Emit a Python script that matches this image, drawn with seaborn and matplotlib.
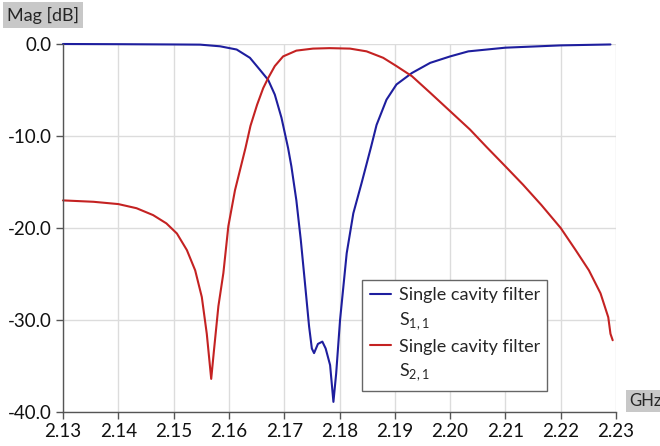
import pandas as pd
import matplotlib
matplotlib.use("Agg")
import matplotlib.pyplot as plt
from matplotlib.lines import Line2D
import seaborn as sns

# S-parameters of the single cavity filter (GHz, dB)
freq_s11 = [2.130, 2.140, 2.150, 2.1548, 2.1584, 2.1614, 2.1638, 2.1656, 2.1671, 2.1683,
            2.1695, 2.1707, 2.1713, 2.1722, 2.1730, 2.1737, 2.1745, 2.1750, 2.1754, 2.1761,
            2.1769, 2.1775, 2.1783, 2.1789, 2.1794, 2.1801, 2.1813, 2.1825, 2.1840, 2.1857,
            2.1867, 2.1885, 2.1903, 2.1931, 2.1964, 2.2000, 2.2033, 2.2100, 2.2200, 2.2290]
mag_s11 = [0.0, -0.02, -0.05, -0.07, -0.25, -0.6, -1.5, -2.8, -3.9, -5.5,
           -8.0, -11.3, -13.3, -17.0, -21.3, -25.65, -30.7, -33.1, -33.6, -32.6,
           -32.35, -33.1, -34.9, -38.9, -35.8, -30.0, -22.75, -18.4, -15.1, -11.2,
           -8.8, -6.05, -4.4, -3.15, -2.05, -1.35, -0.8, -0.4, -0.15, -0.05]

freq_s21 = [2.130, 2.1355, 2.140, 2.1433, 2.1463, 2.1487, 2.1506, 2.1524, 2.1539, 2.1551,
            2.1560, 2.1568, 2.1573, 2.1581, 2.1590, 2.1599, 2.1611, 2.1630, 2.1639, 2.1651,
            2.1662, 2.1671, 2.1683, 2.1698, 2.1722, 2.1752, 2.1782, 2.1819, 2.1849, 2.1879,
            2.1903, 2.1931, 2.1964, 2.2000, 2.2036, 2.2066, 2.2100, 2.2132, 2.2165, 2.2200,
            2.2227, 2.2251, 2.2272, 2.2286, 2.2290, 2.2294]
mag_s21 = [-17.0, -17.15, -17.4, -17.85, -18.6, -19.5, -20.6, -22.4, -24.6, -27.5,
           -31.5, -36.4, -33.3, -28.5, -24.9, -19.8, -15.9, -11.3, -8.9, -6.6,
           -4.8, -3.7, -2.4, -1.35, -0.72, -0.5, -0.45, -0.5, -0.8, -1.5,
           -2.4, -3.5, -5.3, -7.3, -9.3, -11.2, -13.3, -15.3, -17.5, -20.0,
           -22.4, -24.6, -27.1, -29.7, -31.5, -32.2]

x_ticks = [2.13, 2.14, 2.15, 2.16, 2.17, 2.18, 2.19, 2.20, 2.21, 2.22, 2.23]
y_ticks = [0, -10, -20, -30, -40]
trace_names = ["Single cavity filter", "Single cavity filter"]
trace_params = ["S$_{\\mathrm{1,1}}$", "S$_{\\mathrm{2,1}}$"]
trace_colors = ["#1e1e9e", "#c42222"]

df = pd.concat([
    pd.DataFrame({"freq": freq_s11, "mag": mag_s11, "trace": "S11"}),
    pd.DataFrame({"freq": freq_s21, "mag": mag_s21, "trace": "S21"}),
])

sns.set_theme(style="whitegrid")
plt.rcParams["font.family"] = ["Lato", "DejaVu Sans"]
plt.rcParams["mathtext.fontset"] = "custom"
plt.rcParams["mathtext.rm"] = "Lato"

fig = plt.figure(figsize=(6.6, 4.46), dpi=100)
ax = fig.add_axes([63 / 660, 34 / 446, 553 / 660, 368 / 446])

sns.lineplot(data=df, x="freq", y="mag", hue="trace", palette=trace_colors,
             linewidth=1.5, ax=ax, legend=False, clip_on=False)

ax.set_xlim(2.13, 2.23)
ax.set_ylim(-40, 0)
ax.set_xticks(x_ticks)
ax.set_xticklabels([f"{t:.2f}" for t in x_ticks])
ax.set_yticks(y_ticks)
ax.set_yticklabels([f"{t:.1f}" for t in y_ticks])
ax.set_xlabel("")
ax.set_ylabel("")

ax.grid(True, color="#dcdcdc", linewidth=1)
for side in ["top", "right"]:
    ax.spines[side].set_visible(False)
for side in ["left", "bottom"]:
    ax.spines[side].set_color("#555555")
    ax.spines[side].set_linewidth(1)
ax.tick_params(axis="both", which="major", length=5, width=1, color="#555555",
               labelsize=13.5, labelcolor="#111111", direction="out", pad=3)
ax.tick_params(axis="x", bottom=True)
ax.tick_params(axis="y", left=True)

# legend: coloured handle on the name line, parameter on the line below
blank = Line2D([], [], color="none")
handles, labels = [], []
for line, name, param in zip(ax.get_lines()[:2], trace_names, trace_params):
    handles += [line, blank]
    labels += [name, param]
leg = ax.legend(handles, labels, loc="upper left", bbox_to_anchor=(0.541, 0.359),
                fontsize=13, frameon=True, fancybox=False, edgecolor="#666666",
                framealpha=1, handlelength=1.2, handletextpad=0.4, borderpad=0.42,
                labelspacing=0.38, borderaxespad=0)
leg.get_frame().set_linewidth(1)

fig.text(7 / 660, 1 - 15 / 446, "Mag [dB]", fontsize=13, va="center", ha="left",
         bbox=dict(facecolor="#c8c8c8", edgecolor="none", pad=3))
fig.text(629 / 660, 1 - 401 / 446, "GHz", fontsize=12, va="center", ha="left",
         bbox=dict(facecolor="#c8c8c8", edgecolor="none", pad=2))

fig.savefig("out.png", dpi=100, facecolor="white")
